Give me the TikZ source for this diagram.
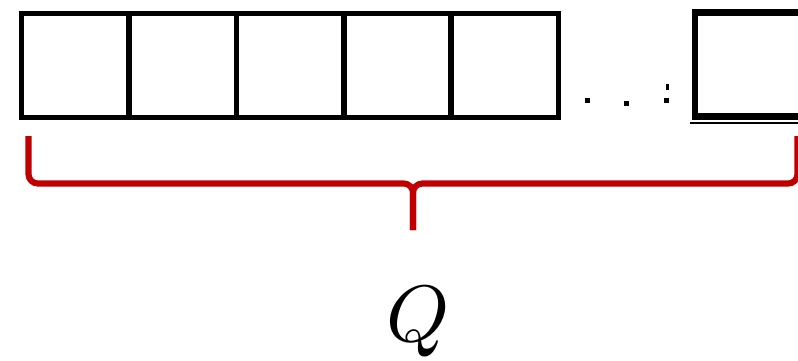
\documentclass[tikz,border=0pt]{standalone}
\usepackage{amsmath}
\usepackage{tikz}
\usetikzlibrary{calc, positioning}
\definecolor{bracered}{RGB}{192,0,0}

\begin{document}
\begin{tikzpicture}[x=0.75pt, y=-0.75pt,
  cell/.style={draw=black, line width=4.2pt, minimum width=80.55pt, minimum height=78pt, inner sep=0pt, outer sep=0pt},
  brace/.style={draw=bracered, line width=4.6pt, rounded corners=7pt}]
\useasboundingbox (0,0) rectangle (798,360);
\clip (0,0) rectangle (798,360);
% row of cells
\node[cell] (cell1) at (75.2,65.5) {};
\foreach \i [evaluate=\i as \prev using int(\i-1)] in {2,...,5}{
  \node[cell, right=0pt of cell\prev] (cell\i) {};
}
% dots and last cell
\foreach \x/\y in {587/100, 626/103, 666/100}{
  \fill (\x-2.5,\y-2.5) rectangle (\x+2.5,\y+2.5);
}
\fill (665.5,84) rectangle (668.5,90);
\node[cell, line width=4.8pt] (cellN) at (748.7,64.5) {};
\draw[line width=1.5pt] ($(cellN.south west)+(-5,6.5)$) coordinate (ul) -- ($(cellN.south east)+(5,6.5)$);
% brace under the cells
\coordinate (bl) at (28.5,136);
\coordinate (br) at (797.5,136);
\coordinate (tip) at (413,230);
\draw[brace] (bl) -- (bl |- 0,183.5) -- (tip |- 0,183.5) -- (tip);
\draw[brace] (br) -- (br |- 0,183.5) -- (tip |- 0,183.5) -- (tip);
\node[anchor=base, inner sep=0pt, scale=6] (qlabel) at (418,341) {$Q$};
\end{tikzpicture}
\end{document}
